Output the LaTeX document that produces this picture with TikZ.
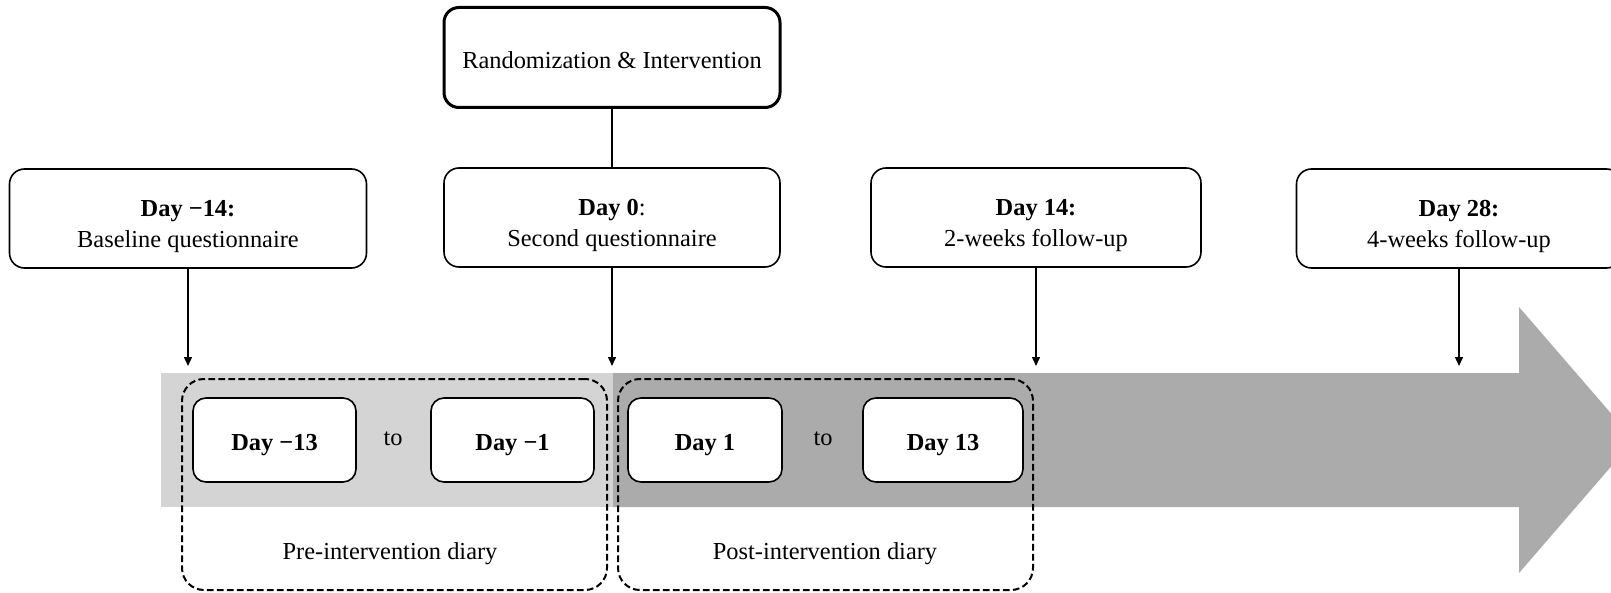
\documentclass[tikz,border=0pt]{standalone}
\usepackage{fontspec}
\setmainfont{Liberation Serif}
\usetikzlibrary{arrows.meta}
\definecolor{bandlight}{gray}{0.83}
\definecolor{banddark}{gray}{0.67}
% lower the visible text without changing the box TikZ centres
\newcommand\shiftdown[2]{\raisebox{-#1}[\height][\depth]{#2}}
\newcommand\cardtext[2]{\shiftdown{3.7pt}{\begin{tabular}{@{}c@{}}#1\\#2\end{tabular}}}
\begin{document}
\begin{tikzpicture}[x=0.5pt,y=-0.5pt,
  font=\fontsize{12.2}{15.3}\selectfont,
  card/.style={draw, line width=0.8pt, rounded corners=7.5pt, fill=white,
    align=center, inner sep=0pt, minimum height=49.5pt},
  daycard/.style={draw, line width=0.8pt, rounded corners=6.5pt, fill=white,
    align=center, inner sep=0pt, minimum height=42pt, font=\fontsize{12.2}{15.3}\selectfont\bfseries},
  diarybox/.style={draw, line width=1pt, dash pattern=on 3.3pt off 1.7pt,
    rounded corners=11pt, inner sep=0pt, minimum height=105.5pt},
  pointer/.style={line width=0.75pt, -{Triangle[length=4.5pt,width=4pt]}},
  plainlink/.style={line width=0.75pt}]
\path[use as bounding box, clip] (0,0) rectangle (1611,593);

% timeline band and arrow head
\fill[bandlight] (161,373) rectangle (613,507);
\fill[banddark] (613,373) -- (1519,373) -- (1519,307) -- (1634,440)
  -- (1519,573) -- (1519,507) -- (613,507) -- cycle;

% diary periods
\node[diarybox, minimum width=212.5pt] (pre) at (394.5,484.5) {};
\node[diarybox, minimum width=207.5pt] (post) at (825.5,484.5) {};
\node (prelabel) at (390,554) {Pre-intervention diary};
\node (postlabel) at (825,554) {Post-intervention diary};

\node[daycard, minimum width=81.5pt] (dm13) at (274.5,440) {\shiftdown{2.5pt}{Day −13}};
\node[daycard, minimum width=81.5pt] (dm1) at (512.5,440) {\shiftdown{2.5pt}{Day −1}};
\node (to1) at (393,439) {to};
\node[daycard, minimum width=77pt] (d1) at (705,440) {\shiftdown{2.5pt}{Day 1}};
\node[daycard, minimum width=80pt] (d13) at (943,440) {\shiftdown{2.5pt}{Day 13}};
\node (to2) at (823,439) {to};

% questionnaire time points
\node[card, minimum width=178.5pt] (base) at (188,218.5)
  {\cardtext{\textbf{Day −14:}}{Baseline questionnaire}};
\node[card, minimum width=168pt] (day0) at (612,217.5)
  {\cardtext{\textbf{Day 0}:}{Second questionnaire}};
\node[card, minimum width=165pt] (day14) at (1036,217.5)
  {\cardtext{\textbf{Day 14:}}{2-weeks follow-up}};
\node[card, minimum width=162.5pt] (day28) at (1459,218.5)
  {\cardtext{\textbf{Day 28:}}{4-weeks follow-up}};
\node[card, line width=1.5pt, minimum width=168pt, minimum height=50pt] (rand) at (612,57.5)
  {\shiftdown{1.2pt}{Randomization \& Intervention}};

\coordinate (t1) at (188,366);
\coordinate (t2) at (612,366);
\coordinate (t3) at (1036,366);
\coordinate (t4) at (1459,366);

\draw[plainlink] (rand) -- (day0);
\draw[pointer] (base) -- (t1);
\draw[pointer] (day0) -- (t2);
\draw[pointer] (day14) -- (t3);
\draw[pointer] (day28) -- (t4);
\end{tikzpicture}
\end{document}
